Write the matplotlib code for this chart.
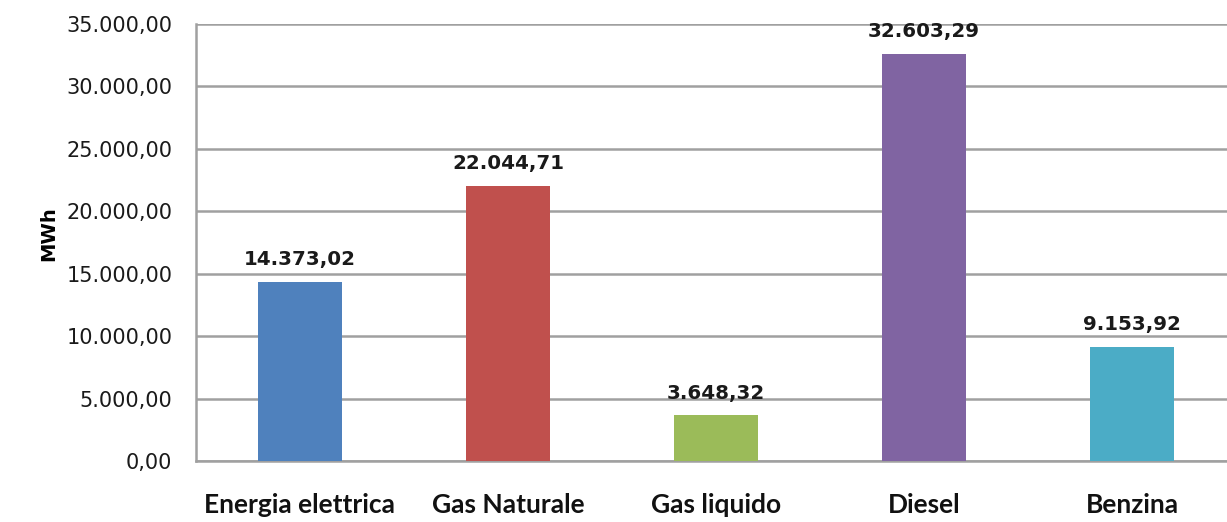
import matplotlib.pyplot as plt
from matplotlib.ticker import FuncFormatter

categories = ["Energia elettrica", "Gas Naturale", "Gas liquido", "Diesel", "Benzina"]
values = [14373.02, 22044.71, 3648.32, 32603.29, 9153.92]
colors = ["#4F81BD", "#C0504D", "#9BBB59", "#8064A2", "#4BACC6"]
yticks = [0, 5000, 10000, 15000, 20000, 25000, 30000, 35000]


def it_num(v, pos=None):
    # italian style: dot for thousands, comma for decimals
    s = "{:,.2f}".format(v)
    return s.replace(",", "X").replace(".", ",").replace("X", ".")


fig = plt.figure(figsize=(12.27, 5.22), dpi=100)
ax = fig.add_axes([196 / 1227, 61 / 522, 1031 / 1227, 437 / 522])

x = range(len(categories))
ax.bar(x, values, width=0.4, color=colors, zorder=3)

for i, v in enumerate(values):
    ax.annotate(it_num(v), (i, v), xytext=(0, 9), textcoords="offset points",
                ha="center", va="bottom", fontsize=14.3, fontweight="bold",
                color="#1a1a1a", family="DejaVu Sans")

ax.set_xlim(-0.5, -0.5 + 1031 / 208)
ax.set_ylim(0, 35000)
ax.set_yticks(yticks)
ax.yaxis.set_major_formatter(FuncFormatter(it_num))
ax.set_xticks(list(x))
ax.set_xticklabels(categories, fontsize=19, fontweight="bold", family="Lato")

ax.tick_params(axis="y", length=0, pad=17, labelsize=15, labelcolor="#1a1a1a")
ax.tick_params(axis="x", length=0, pad=23, labelcolor="#111111")
ax.grid(axis="y", color="#a0a0a0", linewidth=1.8, zorder=0)

for side in ["top", "right"]:
    ax.spines[side].set_visible(False)
ax.spines["left"].set_color("#a0a0a0")
ax.spines["left"].set_linewidth(1.8)
ax.spines["bottom"].set_color("#a0a0a0")
ax.spines["bottom"].set_linewidth(1.8)

ax.set_ylabel("MWh", fontsize=14, fontweight="bold", labelpad=6)
ax.yaxis.label.set_y(0.52)

fig.savefig("out.png", dpi=100)
